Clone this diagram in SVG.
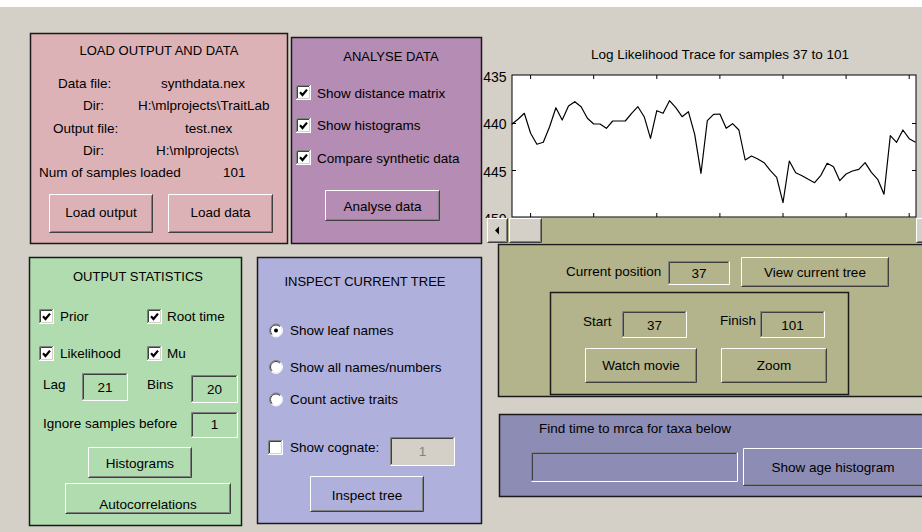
<svg xmlns="http://www.w3.org/2000/svg" xmlns:xlink="http://www.w3.org/1999/xlink" width="922" height="532" viewBox="0 0 922 532">
<style>
.t{font-family:"Liberation Sans",Arial,sans-serif;font-size:13.5px;fill:#000}
.h{font-size:13px}
.m{text-anchor:middle}
.ax{font-family:"Liberation Sans",Arial,sans-serif;font-size:14px;fill:#000;text-anchor:end}
.hl{stroke:#fff;fill:none;stroke-width:1}
.sh{stroke:#404040;fill:none;stroke-width:1}
.sh2{stroke:#808080;fill:none;stroke-width:1}
.lt{stroke:#d4d0c8;fill:none;stroke-width:1}
.pn{stroke:#1a1a1a;stroke-width:1.5}
.tk{stroke:#000;stroke-width:1;fill:none}
</style>
<defs>
<g id="cb">
<rect x="0" y="0" width="15" height="15" fill="#fff"/>
<path class="sh2" d="M0.5,14 V0.5 H14"/>
<path class="hl" d="M0.5,14.5 H14.5 V0.5"/>
<path class="sh" d="M1.5,13 V1.5 H13"/>
<path class="lt" d="M1.5,13.5 H13.5 V1.5"/>
</g>
<path id="tick" d="M4,7.2 L6.5,10 L11,4.6" stroke="#000" stroke-width="2.2" fill="none"/>
<g id="rb">
<circle r="6" fill="#fff"/>
<path d="M-4.6,4.6 A6.5,6.5 0 0 1 4.6,-4.6" stroke="#808080" fill="none"/>
<path d="M4.6,-4.6 A6.5,6.5 0 0 1 -4.6,4.6" stroke="#fff" fill="none"/>
<path d="M-3.9,3.9 A5.5,5.5 0 0 1 3.9,-3.9" stroke="#404040" fill="none"/>
</g>
<clipPath id="yclip"><rect x="483" y="60" width="30" height="158"/></clipPath>
</defs>

<rect x="0" y="0" width="922" height="532" fill="#d4d0c8"/>
<rect x="0" y="0" width="922" height="7" fill="#fff"/>

<g id="load-panel">
<rect class="pn" x="30.5" y="33.5" width="257" height="210" fill="#dcb2b6"/>
<text class="t h m" x="159" y="55">LOAD OUTPUT AND DATA</text>
<text class="t" x="58" y="88">Data file:</text>
<text class="t" x="161" y="88">synthdata.nex</text>
<text class="t" x="83" y="110">Dir:</text>
<text class="t" x="138" y="110">H:\mlprojects\TraitLab</text>
<text class="t" x="53" y="133">Output file:</text>
<text class="t" x="185" y="133">test.nex</text>
<text class="t" x="83" y="155">Dir:</text>
<text class="t" x="156" y="155">H:\mlprojects\</text>
<text class="t" x="39" y="177">Num of samples loaded</text>
<text class="t" x="223" y="177">101</text>
<g id="btn-load-output">
<rect x="49" y="194" width="104" height="39" fill="#dcb2b6"/>
<path class="hl" d="M49.5,232 V194.5 H152"/><path class="sh" d="M49.5,232.5 H152.5 V194.5"/><path class="sh2" d="M50.5,231.5 H151.5 V195.5"/>
<text class="t m" x="101" y="217">Load output</text>
</g>
<g id="btn-load-data">
<rect x="168" y="194" width="105" height="39" fill="#dcb2b6"/>
<path class="hl" d="M168.5,232 V194.5 H272"/><path class="sh" d="M168.5,232.5 H272.5 V194.5"/><path class="sh2" d="M169.5,231.5 H271.5 V195.5"/>
<text class="t m" x="220.5" y="217">Load data</text>
</g>
</g>

<g id="analyse-panel">
<rect class="pn" x="291.5" y="37.5" width="190" height="206" fill="#b48cb4"/>
<text class="t h m" x="391" y="61">ANALYSE DATA</text>
<use xlink:href="#cb" x="296" y="85"/><use xlink:href="#tick" x="296" y="85"/>
<text class="t" x="317" y="97.5">Show distance matrix</text>
<use xlink:href="#cb" x="296" y="118"/><use xlink:href="#tick" x="296" y="118"/>
<text class="t" x="317" y="130">Show histograms</text>
<use xlink:href="#cb" x="296" y="150"/><use xlink:href="#tick" x="296" y="150"/>
<text class="t" x="317" y="162.5">Compare synthetic data</text>
<g id="btn-analyse">
<rect x="325" y="190" width="115" height="31" fill="#b48cb4"/>
<path class="hl" d="M325.5,220 V190.5 H439"/><path class="sh" d="M325.5,220.5 H439.5 V190.5"/><path class="sh2" d="M326.5,219.5 H438.5 V191.5"/>
<text class="t m" x="382.5" y="211">Analyse data</text>
</g>
</g>

<g id="trace-plot">
<text class="t m" x="720" y="59">Log Likelihood Trace for samples 37 to 101</text>
<rect x="512" y="75" width="404" height="142" fill="#fff" stroke="#000" stroke-width="1"/>
<g clip-path="url(#yclip)">
<text class="ax" x="506.5" y="81.5">435</text>
<text class="ax" x="506.5" y="129">440</text>
<text class="ax" x="506.5" y="176.5">445</text>
<text class="ax" x="506.5" y="223.5">450</text>
</g>
<path class="tk" d="M530.6,217 v-4 M593.7,217 v-4 M656.8,217 v-4 M719.9,217 v-4 M783,217 v-4 M846.1,217 v-4 M909.2,217 v-4 M530.6,75 v4 M593.7,75 v4 M656.8,75 v4 M719.9,75 v4 M783,75 v4 M846.1,75 v4 M909.2,75 v4 M512,123.5 h4 M512,170.5 h4 M916,123.5 h-4 M916,170.5 h-4"/>
<polyline fill="none" stroke="#000" stroke-width="1.2" stroke-linejoin="round" points="511.7,124.3 518.0,119.3 524.3,113.3 530.6,133.3 536.9,144.3 543.3,142.3 549.6,126.7 555.9,107.7 562.2,120 568.5,106 574.8,101.7 581.1,106.7 587.4,118.3 593.7,124 600.0,124 606.4,128.3 612.7,121 619.0,121 625.3,121 631.6,113.3 637.9,106.7 644.2,116.7 650.5,138.3 656.8,110.7 663.1,113.3 669.5,100.7 675.8,107.7 682.1,116.7 688.4,111.7 694.7,134.3 701.0,173.3 707.3,120.7 713.6,114.3 719.9,114 726.2,128.3 732.6,123.7 738.9,130 745.2,160 751.5,156 757.8,159 764.1,162.7 770.4,170.7 776.7,177.3 783.0,202.7 789.3,161 795.7,172.7 802.0,175.7 808.3,179.3 814.6,182.7 820.9,175.3 827.2,163.3 833.5,166.7 839.8,180.7 846.1,174 852.4,171 858.8,169.3 865.1,162.7 871.4,172.3 877.7,179.3 884.0,194.3 890.3,135.7 896.6,142.3 902.9,130 909.2,138.7 915.5,142.3"/>
</g>

<g id="scrollbar">
<rect x="487" y="218" width="435" height="25" fill="#b4b48c"/>
<g id="sb-left">
<rect x="487" y="218" width="21" height="25" fill="#d4d0c8"/>
<path class="hl" d="M487.5,242 V218.5 H507"/><path class="sh" d="M487.5,242.5 H507.5 V218.5"/><path class="sh2" d="M488.5,241.5 H506.5 V219.5"/>
<polygon points="495,230.5 499,226.5 499,234.5" fill="#000"/>
</g>
<g id="sb-thumb">
<rect x="509" y="218" width="33" height="25" fill="#d4d0c8"/>
<path class="hl" d="M509.5,242 V218.5 H541"/><path class="sh" d="M509.5,242.5 H541.5 V218.5"/><path class="sh2" d="M510.5,241.5 H540.5 V219.5"/>
</g>
<g id="sb-right">
<rect x="916" y="218" width="21" height="25" fill="#d4d0c8"/>
<path class="hl" d="M916.5,242 V218.5 H936"/><path class="sh" d="M916.5,242.5 H936.5"/><path class="sh2" d="M917.5,241.5 H935.5"/>
</g>
</g>

<g id="position-panel">
<rect class="pn" x="498.5" y="244.5" width="430" height="152" fill="#b4b48c"/>
<text class="t" x="566" y="276">Current position</text>
<g id="fld-current">
<rect x="668" y="261" width="62" height="24" fill="#b4b48c"/>
<path class="sh2" d="M668.5,284 V261.5 H729"/><path class="hl" d="M668.5,284.5 H729.5 V261.5"/><path class="sh" d="M669.5,283 V262.5 H728"/>
<text class="t m" x="699" y="278">37</text>
</g>
<g id="btn-view-tree">
<rect x="741" y="257" width="148" height="30" fill="#b4b48c"/>
<path class="hl" d="M741.5,286 V257.5 H888"/><path class="sh" d="M741.5,286.5 H888.5 V257.5"/><path class="sh2" d="M742.5,285.5 H887.5 V258.5"/>
<text class="t m" x="815" y="277">View current tree</text>
</g>
<g id="movie-box">
<rect x="550.5" y="292.5" width="298" height="102" fill="none" stroke="#1a1a1a" stroke-width="1.5"/>
<text class="t" x="583" y="326">Start</text>
<g id="fld-start">
<rect x="622" y="311" width="65" height="27" fill="#b4b48c"/>
<path class="sh2" d="M622.5,337 V311.5 H686"/><path class="hl" d="M622.5,337.5 H686.5 V311.5"/><path class="sh" d="M623.5,336 V312.5 H685"/>
<text class="t m" x="654.5" y="330">37</text>
</g>
<text class="t" x="720" y="325">Finish</text>
<g id="fld-finish">
<rect x="760" y="311" width="65" height="27" fill="#b4b48c"/>
<path class="sh2" d="M760.5,337 V311.5 H824"/><path class="hl" d="M760.5,337.5 H824.5 V311.5"/><path class="sh" d="M761.5,336 V312.5 H823"/>
<text class="t m" x="792.5" y="330">101</text>
</g>
<g id="btn-movie">
<rect x="585" y="348" width="112" height="35" fill="#b4b48c"/>
<path class="hl" d="M585.5,382 V348.5 H696"/><path class="sh" d="M585.5,382.5 H696.5 V348.5"/><path class="sh2" d="M586.5,381.5 H695.5 V349.5"/>
<text class="t m" x="641" y="370">Watch movie</text>
</g>
<g id="btn-zoom">
<rect x="721" y="348" width="106" height="35" fill="#b4b48c"/>
<path class="hl" d="M721.5,382 V348.5 H826"/><path class="sh" d="M721.5,382.5 H826.5 V348.5"/><path class="sh2" d="M722.5,381.5 H825.5 V349.5"/>
<text class="t m" x="774" y="370">Zoom</text>
</g>
</g>
</g>

<g id="mrca-panel">
<rect class="pn" x="499.5" y="414.5" width="430" height="82" fill="#8c8cb4"/>
<text class="t" x="539" y="433">Find time to mrca for taxa below</text>
<g id="fld-taxa">
<rect x="531" y="452" width="207" height="30" fill="#8c8cb4"/>
<path class="sh2" d="M531.5,481 V452.5 H737"/><path class="hl" d="M531.5,481.5 H737.5 V452.5"/><path class="sh" d="M532.5,480 V453.5 H736"/>
</g>
<g id="btn-age-hist">
<rect x="743" y="448" width="190" height="38" fill="#8c8cb4"/>
<path class="hl" d="M743.5,485 V448.5 H932"/><path class="sh" d="M743.5,485.5 H932.5"/><path class="sh2" d="M744.5,484.5 H931.5"/>
<text class="t m" x="833" y="471.5">Show age histogram</text>
</g>
</g>

<g id="stats-panel">
<rect class="pn" x="29.5" y="257.5" width="212" height="268" fill="#b0dcb0"/>
<text class="t h m" x="138" y="281">OUTPUT STATISTICS</text>
<use xlink:href="#cb" x="39" y="309"/><use xlink:href="#tick" x="39" y="309"/>
<text class="t" x="60" y="321">Prior</text>
<use xlink:href="#cb" x="147" y="309"/><use xlink:href="#tick" x="147" y="309"/>
<text class="t" x="167" y="321">Root time</text>
<use xlink:href="#cb" x="39" y="346"/><use xlink:href="#tick" x="39" y="346"/>
<text class="t" x="60" y="357.5">Likelihood</text>
<use xlink:href="#cb" x="147" y="346"/><use xlink:href="#tick" x="147" y="346"/>
<text class="t" x="167" y="357.5">Mu</text>
<text class="t" x="43" y="389">Lag</text>
<g id="fld-lag">
<rect x="82" y="373" width="46" height="28" fill="#b0dcb0"/>
<path class="sh2" d="M82.5,400 V373.5 H127"/><path class="hl" d="M82.5,400.5 H127.5 V373.5"/><path class="sh" d="M83.5,399 V374.5 H126"/>
<text class="t m" x="105" y="392">21</text>
</g>
<text class="t" x="147" y="388.5">Bins</text>
<g id="fld-bins">
<rect x="191" y="375" width="47" height="28" fill="#b0dcb0"/>
<path class="sh2" d="M191.5,402 V375.5 H237"/><path class="hl" d="M191.5,402.5 H237.5 V375.5"/><path class="sh" d="M192.5,401 V376.5 H236"/>
<text class="t m" x="214.5" y="394">20</text>
</g>
<text class="t" x="43" y="428">Ignore samples before</text>
<g id="fld-ignore">
<rect x="191" y="412" width="47" height="26" fill="#b0dcb0"/>
<path class="sh2" d="M191.5,437 V412.5 H237"/><path class="hl" d="M191.5,437.5 H237.5 V412.5"/><path class="sh" d="M192.5,436 V413.5 H236"/>
<text class="t m" x="214.5" y="429">1</text>
</g>
<g id="btn-histograms">
<rect x="88" y="447" width="104" height="31" fill="#b0dcb0"/>
<path class="hl" d="M88.5,477 V447.5 H191"/><path class="sh" d="M88.5,477.5 H191.5 V447.5"/><path class="sh2" d="M89.5,476.5 H190.5 V448.5"/>
<text class="t m" x="140" y="468">Histograms</text>
</g>
<g id="btn-autocorr">
<rect x="65" y="483" width="166" height="31" fill="#b0dcb0"/>
<path class="hl" d="M65.5,513 V483.5 H230"/><path class="sh" d="M65.5,513.5 H230.5 V483.5"/><path class="sh2" d="M66.5,512.5 H229.5 V484.5"/>
<text class="t m" x="148" y="508.5">Autocorrelations</text>
</g>
</g>

<g id="inspect-panel">
<rect class="pn" x="257.5" y="257.5" width="224" height="266" fill="#b0b0dc"/>
<text class="t h m" x="365" y="285.5">INSPECT CURRENT TREE</text>
<use xlink:href="#rb" x="276" y="330.5"/><circle cx="276" cy="330.5" r="2" fill="#000"/>
<text class="t" x="290" y="335">Show leaf names</text>
<use xlink:href="#rb" x="276" y="367"/>
<text class="t" x="290" y="371.5">Show all names/numbers</text>
<use xlink:href="#rb" x="276" y="399.5"/>
<text class="t" x="290" y="404">Count active traits</text>
<use xlink:href="#cb" x="268" y="440"/>
<text class="t" x="290" y="451.5">Show cognate:</text>
<g id="fld-cognate">
<rect x="390" y="437" width="65" height="29" fill="#d4d0c8"/>
<path class="sh2" d="M390.5,465 V437.5 H454"/><path class="hl" d="M390.5,465.5 H454.5 V437.5"/><path class="sh" d="M391.5,464 V438.5 H453"/>
<text class="t m" x="422.5" y="456" style="fill:#808080">1</text>
</g>
<g id="btn-inspect">
<rect x="310" y="476" width="114" height="36" fill="#b0b0dc"/>
<path class="hl" d="M310.5,511 V476.5 H423"/><path class="sh" d="M310.5,511.5 H423.5 V476.5"/><path class="sh2" d="M311.5,510.5 H422.5 V477.5"/>
<text class="t m" x="367" y="500">Inspect tree</text>
</g>
</g>
</svg>
